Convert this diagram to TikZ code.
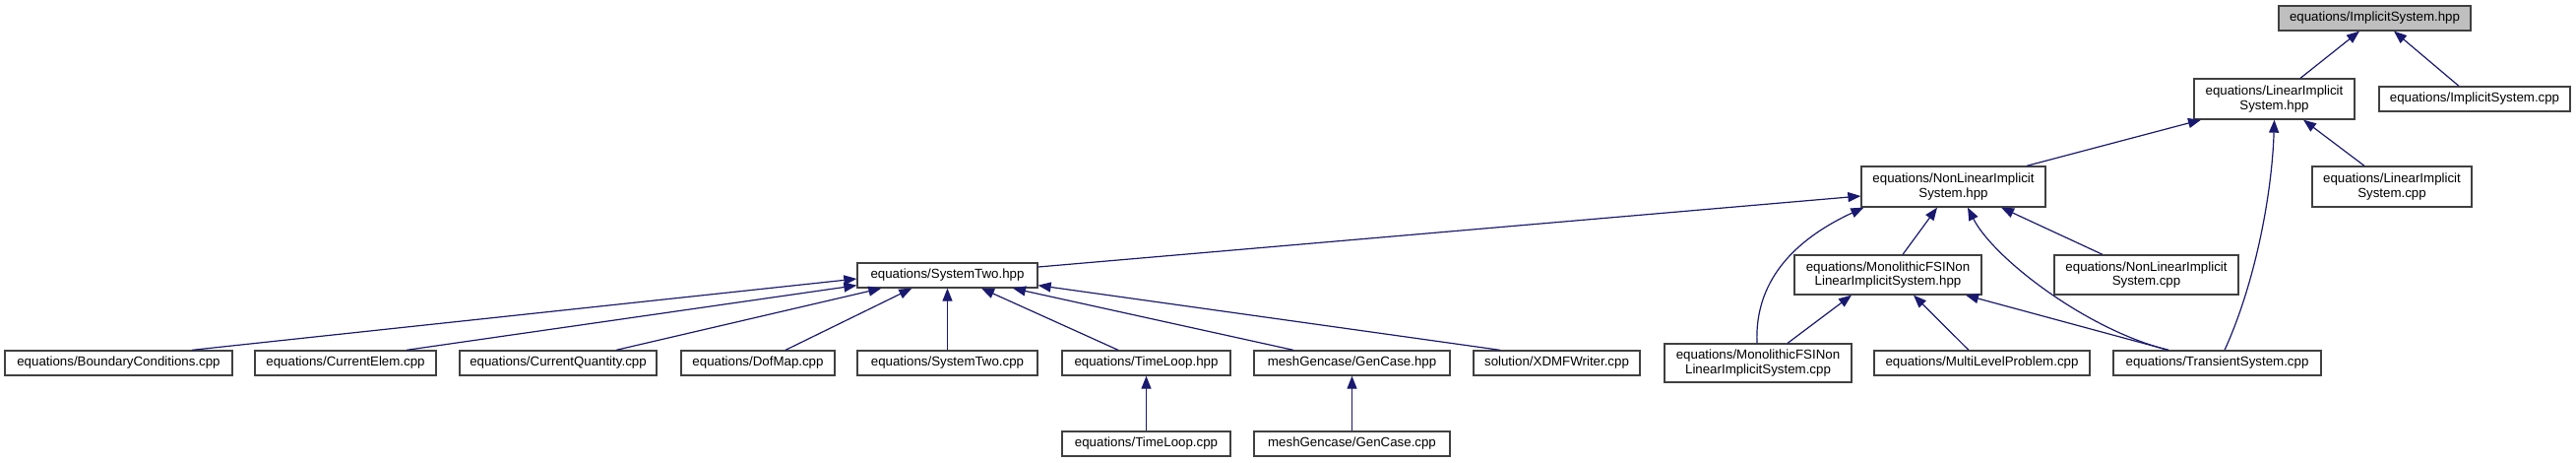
\documentclass[tikz,border=0pt]{standalone}
\usepackage{fontspec}
\setmainfont{Liberation Sans}
\usetikzlibrary{arrows.meta}
\definecolor{edgec}{HTML}{191970}
\definecolor{boxc}{HTML}{404040}
\definecolor{rootfill}{HTML}{BFBFBF}
\begin{document}
\begin{tikzpicture}[x=1pt,y=-1pt,
  box/.style={draw=boxc, line width=1.3pt, fill=white, inner sep=0pt, align=center,
    font=\fontsize{13.3}{14.5}\selectfont},
  edge/.style={draw=edgec, line width=1.2pt, -{Triangle[length=13pt,width=10pt]}},
]
\useasboundingbox[fill=white] (0,0) rectangle (2617,469);
% nodes
\node[box, fill=rootfill, minimum width=195pt, minimum height=25pt] (root) at (2412.5,18.5) {equations/ImplicitSystem.hpp};
\node[box, minimum width=163pt, minimum height=41pt] (lih) at (2310.5,100.5) {equations/LinearImplicit\\System.hpp};
\node[box, minimum width=194pt, minimum height=25pt] (isc) at (2514,100.5) {equations/ImplicitSystem.cpp};
\node[box, minimum width=187pt, minimum height=41pt] (nlh) at (1984.5,189.5) {equations/NonLinearImplicit\\System.hpp};
\node[box, minimum width=162pt, minimum height=41pt] (lic) at (2430,189.5) {equations/LinearImplicit\\System.cpp};
\node[box, minimum width=183pt, minimum height=25pt] (s2h) at (962.5,279.5) {equations/SystemTwo.hpp};
\node[box, minimum width=190pt, minimum height=40pt] (mfh) at (1918,279) {equations/MonolithicFSINon\\LinearImplicitSystem.hpp};
\node[box, minimum width=187pt, minimum height=40pt] (nlc) at (2180.5,279) {equations/NonLinearImplicit\\System.cpp};
\node[box, minimum width=231pt, minimum height=25pt] (bc) at (120.5,368.5) {equations/BoundaryConditions.cpp};
\node[box, minimum width=184pt, minimum height=25pt] (ce) at (351,368.5) {equations/CurrentElem.cpp};
\node[box, minimum width=200pt, minimum height=25pt] (cq) at (567,368.5) {equations/CurrentQuantity.cpp};
\node[box, minimum width=156pt, minimum height=25pt] (dm) at (770,368.5) {equations/DofMap.cpp};
\node[box, minimum width=183pt, minimum height=25pt] (s2c) at (962.5,368.5) {equations/SystemTwo.cpp};
\node[box, minimum width=171pt, minimum height=25pt] (tlh) at (1164.5,368.5) {equations/TimeLoop.hpp};
\node[box, minimum width=199pt, minimum height=25pt] (gch) at (1373.5,368.5) {meshGencase/GenCase.hpp};
\node[box, minimum width=169pt, minimum height=25pt] (xdmf) at (1581.5,368.5) {solution/XDMFWriter.cpp};
\node[box, minimum width=190pt, minimum height=39pt] (mfc) at (1786,368.5) {equations/MonolithicFSINon\\LinearImplicitSystem.cpp};
\node[box, minimum width=219pt, minimum height=25pt] (mlp) at (2013.5,368.5) {equations/MultiLevelProblem.cpp};
\node[box, minimum width=211pt, minimum height=25pt] (ts) at (2252.5,368.5) {equations/TransientSystem.cpp};
\node[box, minimum width=171pt, minimum height=25pt] (tlc) at (1164.5,450.5) {equations/TimeLoop.cpp};
\node[box, minimum width=199pt, minimum height=25pt] (gcc) at (1373.5,450.5) {meshGencase/GenCase.cpp};
% edges
\draw[edge] ([xshift=26.5pt]lih.north) -- ([xshift=-15.5pt]root.south);
\draw[edge] ([xshift=-16pt]isc.north) -- ([xshift=19.5pt]root.south);
\draw[edge] ([xshift=74.5pt]nlh.north) -- ([xshift=-74.5pt]lih.south);
\draw[edge] ([xshift=-28pt]lic.north) -- ([xshift=29.5pt]lih.south);
\draw[edge] ([xshift=7.5pt]ts.north) .. controls (2290,290) and (2308,200) .. (lih.south);
\draw[edge] ([yshift=8.5pt]s2h.east) -- ([yshift=-9.5pt]nlh.west);
\draw[edge] ([xshift=-1pt]mfc.north) .. controls (1782,280) and (1830,240) .. ([xshift=3pt]nlh.south west);
\draw[edge] ([xshift=15pt]mfh.north) -- ([xshift=-16.5pt]nlh.south);
\draw[edge] ([xshift=-49.5pt]ts.north) .. controls (2120,335) and (2025,262) .. ([xshift=14.5pt]nlh.south);
\draw[edge] ([xshift=-44.5pt]nlc.north) -- ([xshift=48.5pt]nlh.south);
\draw[edge] ([xshift=30pt]mfc.north) -- ([xshift=-37pt]mfh.south);
\draw[edge] ([xshift=-13.5pt]mlp.north) -- ([xshift=26pt]mfh.south);
\draw[edge] ([xshift=-49.5pt]ts.north) -- ([xshift=79pt]mfh.south);
\draw[edge] ([xshift=74.5pt]bc.north) -- ([yshift=-3.5pt]s2h.west);
\draw[edge] ([xshift=62pt]ce.north) -- ([yshift=3pt]s2h.south west);
\draw[edge] ([xshift=59pt]cq.north) -- ([xshift=25pt]s2h.south west);
\draw[edge] ([xshift=28pt]dm.north) -- ([xshift=56pt]s2h.south west);
\draw[edge] (s2c.north) -- (s2h.south);
\draw[edge] ([xshift=-28.5pt]tlh.north) -- ([xshift=34.5pt]s2h.south);
\draw[edge] ([xshift=-59.5pt]gch.north) -- ([xshift=66.5pt]s2h.south);
\draw[edge] ([xshift=-57.5pt]xdmf.north) -- ([yshift=3pt]s2h.south east);
\draw[edge] (tlc.north) -- (tlh.south);
\draw[edge] (gcc.north) -- (gch.south);
\end{tikzpicture}
\end{document}
